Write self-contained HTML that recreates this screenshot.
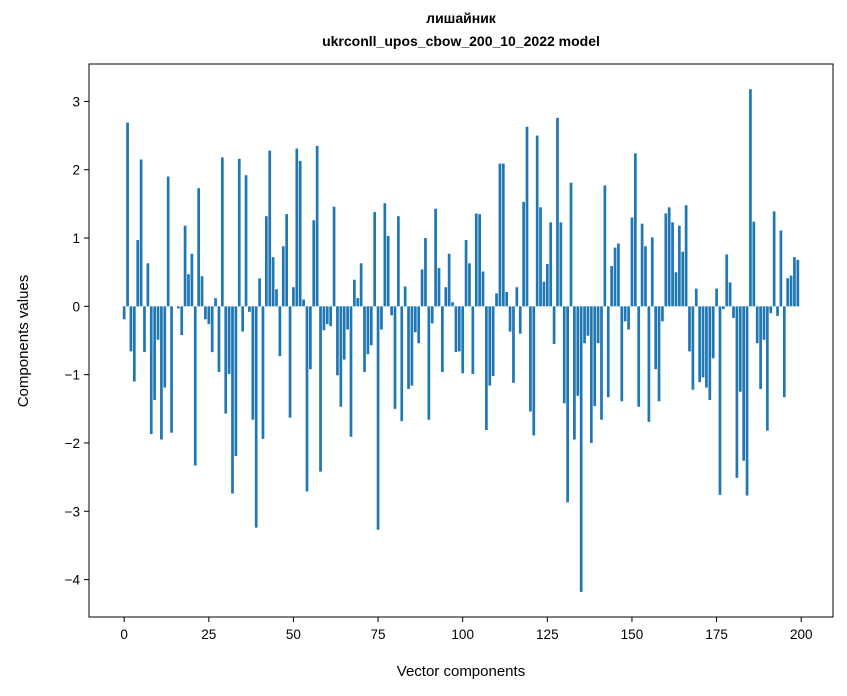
<!DOCTYPE html>
<html><head><meta charset="utf-8"><style>
body{margin:0;background:#fff;}
svg{display:block;font-family:"Liberation Sans","DejaVu Sans",sans-serif;}
</style></head><body>
<svg id="chart" width="847" height="696" viewBox="0 0 847 696">
<rect width="847" height="696" fill="#fff"/>
<text x="461" y="28" text-anchor="middle" font-size="14" font-weight="bold" transform="translate(0,-5)">лишайник</text>
<text x="461" y="51" text-anchor="middle" font-size="14" font-weight="bold" transform="translate(0,-5)">ukrconll_upos_cbow_200_10_2022 model</text>
<g id="bars"></g>
<g id="xticks"></g>
<g id="yticks"></g>
<rect x="89" y="64" width="744" height="553" fill="none" stroke="#000" stroke-width="1"/>
<text x="461" y="676" text-anchor="middle" font-size="15">Vector components</text>
<text transform="translate(28,341) rotate(-90)" text-anchor="middle" font-size="15">Components values</text>
</svg>
<script>
const values = [
-0.19,2.69,-0.66,-1.1,0.97,2.15,-0.67,0.63,-1.87,-1.37,
-0.49,-1.95,-1.19,1.9,-1.85,0.0,-0.03,-0.42,1.18,0.47,
0.77,-2.33,1.73,0.44,-0.19,-0.26,-0.67,0.12,-0.96,2.18,
-1.57,-0.99,-2.74,-2.19,2.16,-0.37,1.92,-0.08,-1.66,-3.24,
0.41,-1.94,1.32,2.28,0.72,0.25,-0.73,0.88,1.35,-1.63,
0.28,2.31,2.13,0.10,-2.71,-0.92,1.26,2.35,-2.42,-0.35,
-0.26,-0.29,1.46,-1.01,-1.47,-0.78,-0.34,-1.91,0.39,0.12,
0.63,-0.96,-0.70,-0.57,1.38,-3.27,-0.34,1.51,1.03,-0.13,
-1.5,1.32,-1.68,0.29,-1.21,-1.16,-0.38,-0.54,0.54,1.0,
-1.66,-0.25,1.43,0.56,-0.96,0.28,0.77,0.06,-0.67,-0.66,
-0.98,0.97,0.63,-0.99,1.36,1.35,0.51,-1.81,-1.16,-1.02,
0.19,2.09,2.09,0.21,-0.37,-1.12,0.28,-0.40,1.53,2.63,
-1.54,-1.89,2.50,1.45,0.36,0.62,1.23,-0.55,2.76,1.23,
-1.42,-2.87,1.81,-1.95,-1.31,-4.18,-0.54,-0.43,-2.0,-1.46,
-0.54,-1.66,1.77,-1.33,0.59,0.86,0.92,-1.39,-0.22,-0.34,
1.30,2.24,-1.47,1.21,0.88,-1.69,1.01,-0.92,-1.39,-0.22,
1.36,1.45,1.23,0.50,1.18,0.80,1.48,-0.66,-1.22,0.26,
-1.11,-1.04,-1.19,-1.37,-0.76,0.26,-2.76,-0.04,0.76,0.35,
-0.17,-2.51,-1.25,-2.26,-2.77,3.18,1.24,-0.54,-1.21,-0.49,
-1.82,-0.10,1.39,-0.14,1.11,-1.33,0.41,0.45,0.72,0.68
];
const xTickValues = [0,25,50,75,100,125,150,175,200];
const yTickValues = [-4,-3,-2,-1,0,1,2,3];

const NS = "http://www.w3.org/2000/svg";
const PL = 89, PR = 833, PT = 64, PB = 617;
const n = values.length;
const xMin = -0.4 - 0.05 * (n - 1 + 0.8), xMax = n - 1 + 0.4 + 0.05 * (n - 1 + 0.8);
const vMin = Math.min(0, ...values), vMax = Math.max(0, ...values);
const yMin = vMin - 0.05 * (vMax - vMin), yMax = vMax + 0.05 * (vMax - vMin);
function xs(v){ return PL + (v - xMin) / (xMax - xMin) * (PR - PL); }
function ys(v){ return PB - (v - yMin) / (yMax - yMin) * (PB - PT); }

const gb = document.getElementById('bars');
values.forEach((v, i) => {
  const r = document.createElementNS(NS, 'rect');
  const x0 = xs(i - 0.4), x1 = xs(i + 0.4);
  const y0 = ys(Math.max(0, v)), y1 = ys(Math.min(0, v));
  r.setAttribute('x', x0);
  r.setAttribute('width', x1 - x0);
  r.setAttribute('y', y0);
  r.setAttribute('height', Math.max(0, y1 - y0));
  r.setAttribute('fill', '#1f77b4');
  
  
  gb.appendChild(r);
});

const gx = document.getElementById('xticks');
xTickValues.forEach(t => {
  const x = xs(t);
  const l = document.createElementNS(NS, 'line');
  l.setAttribute('x1', x); l.setAttribute('x2', x);
  l.setAttribute('y1', PB); l.setAttribute('y2', PB + 5);
  l.setAttribute('stroke', '#000');
  
  
  gx.appendChild(l);
  const tx = document.createElementNS(NS, 'text');
  tx.setAttribute('x', x); tx.setAttribute('y', PB + 22);
  tx.setAttribute('text-anchor', 'middle');
  tx.setAttribute('font-size', '13.5');
  tx.textContent = String(t);
  
  
  gx.appendChild(tx);
});

const gy = document.getElementById('yticks');
yTickValues.forEach(t => {
  const y = ys(t);
  const l = document.createElementNS(NS, 'line');
  l.setAttribute('x1', PL - 5); l.setAttribute('x2', PL);
  l.setAttribute('y1', y); l.setAttribute('y2', y);
  l.setAttribute('stroke', '#000');
  
  
  gy.appendChild(l);
  const tx = document.createElementNS(NS, 'text');
  tx.setAttribute('x', PL - 9); tx.setAttribute('y', y + 5);
  tx.setAttribute('text-anchor', 'end');
  tx.setAttribute('font-size', '13.5');
  tx.textContent = t < 0 ? '\u2212' + Math.abs(t) : String(t);
  
  
  gy.appendChild(tx);
});
</script>
</body></html>
